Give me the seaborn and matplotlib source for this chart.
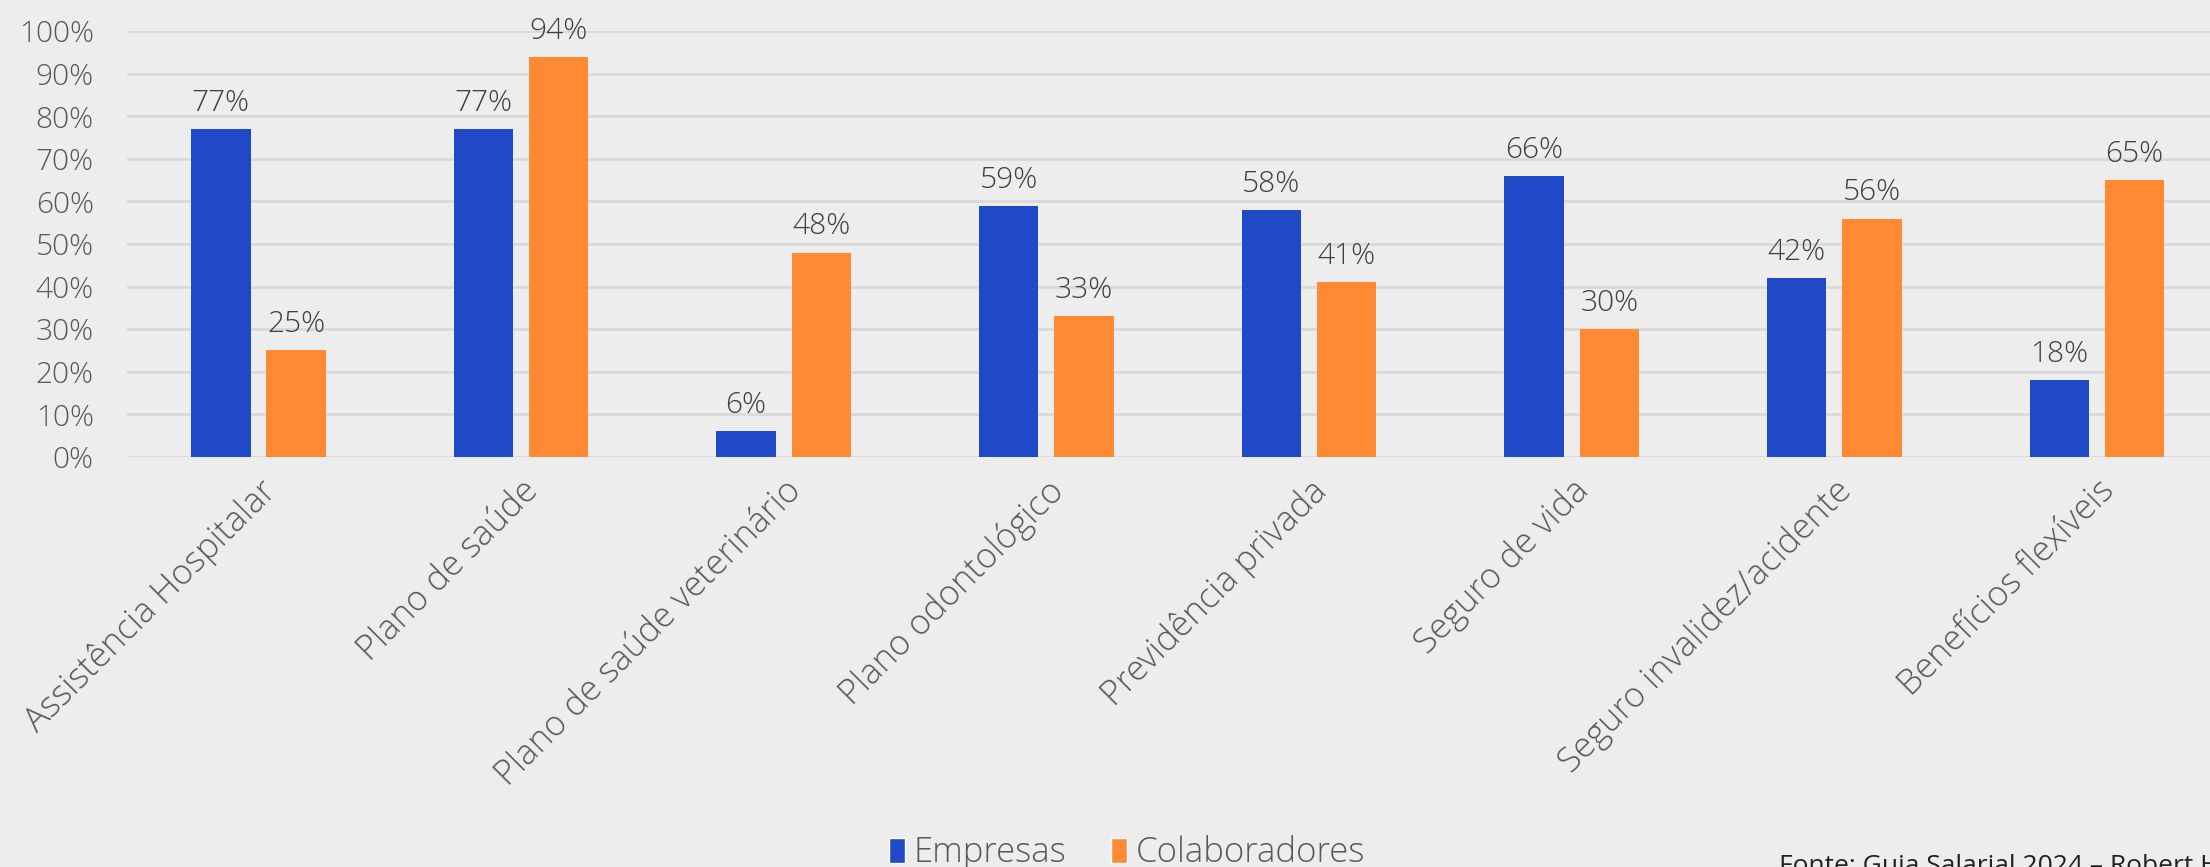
import matplotlib
matplotlib.use("Agg")
import matplotlib.pyplot as plt
from matplotlib.patches import Patch
from matplotlib.ticker import FuncFormatter, MultipleLocator
import pandas as pd
import seaborn as sns

# benefits and share offered by companies vs. valued by employees (%)
categories = [
    "Assistência Hospitalar",
    "Plano de saúde",
    "Plano de saúde veterinário",
    "Plano odontológico",
    "Previdência privada",
    "Seguro de vida",
    "Seguro invalidez/acidente",
    "Benefícios flexíveis",
]
empresas = [77, 77, 6, 59, 58, 66, 42, 18]
colaboradores = [25, 94, 48, 33, 41, 30, 56, 65]
series_names = ["Empresas", "Colaboradores"]
source_note = "Fonte: Guia Salarial 2024 – Robert Half"

BLUE = "#2049C8"
ORANGE = "#FF8A33"
BG = "#EDEDED"
GRID = "#D9D9D9"
TXT = "#595959"
FONT = ["Open Sans", "DejaVu Sans"]
W = 300  # light

df = pd.DataFrame({
    "categoria": categories * 2,
    "serie": [series_names[0]] * len(categories) + [series_names[1]] * len(categories),
    "valor": empresas + colaboradores,
})

sns.set_style("white")
plt.rcParams["font.family"] = FONT

fig = plt.figure(figsize=(22.1, 8.67), dpi=100, facecolor=BG)
ax = fig.add_axes([0.0575, 0.473, 0.9425, 0.491])
ax.set_facecolor(BG)

sns.barplot(
    data=df, x="categoria", y="valor", hue="serie",
    palette=[BLUE, ORANGE], width=0.573, gap=0.21,
    saturation=1, ax=ax, legend=False, zorder=3, linewidth=0,
)

for cont in ax.containers:
    ax.bar_label(cont, labels=[f"{v:.0f}%" for v in cont.datavalues],
                 padding=8, fontsize=21.5, color="#404040",
                 fontweight=W, clip_on=False)

ax.set_ylim(0, 100)
ax.set_xlim(-0.5, 7.43)
ax.yaxis.set_major_locator(MultipleLocator(10))
ax.yaxis.set_major_formatter(FuncFormatter(lambda v, _: f"{v:.0f}%"))
ax.grid(axis="y", color=GRID, linewidth=2, zorder=0)
ax.set_axisbelow(True)
for s in ax.spines.values():
    s.set_visible(False)

ax.set_xlabel("")
ax.set_ylabel("")
ax.tick_params(axis="y", length=0, pad=24, labelsize=21.5, labelcolor=TXT)
ax.tick_params(axis="x", length=0, pad=12, labelsize=25, labelcolor=TXT)
for lab in ax.get_yticklabels():
    lab.set_fontweight(W)
for lab in ax.get_xticklabels():
    lab.set_rotation(45)
    lab.set_ha("right")
    lab.set_rotation_mode("anchor")
    lab.set_fontweight(W)

handles = [Patch(facecolor=BLUE), Patch(facecolor=ORANGE)]
fig.legend(handles, series_names, loc="center", bbox_to_anchor=(0.51, 0.016),
           ncol=2, frameon=False, labelcolor=TXT,
           prop={"size": 25, "weight": W},
           handlelength=0.45, handleheight=0.75, handletextpad=0.25,
           columnspacing=1.3)

fig.text(0.805, -0.014, source_note, fontsize=19, color="#222222",
         ha="left", va="bottom")

fig.savefig("out.png", dpi=100, facecolor=BG)
